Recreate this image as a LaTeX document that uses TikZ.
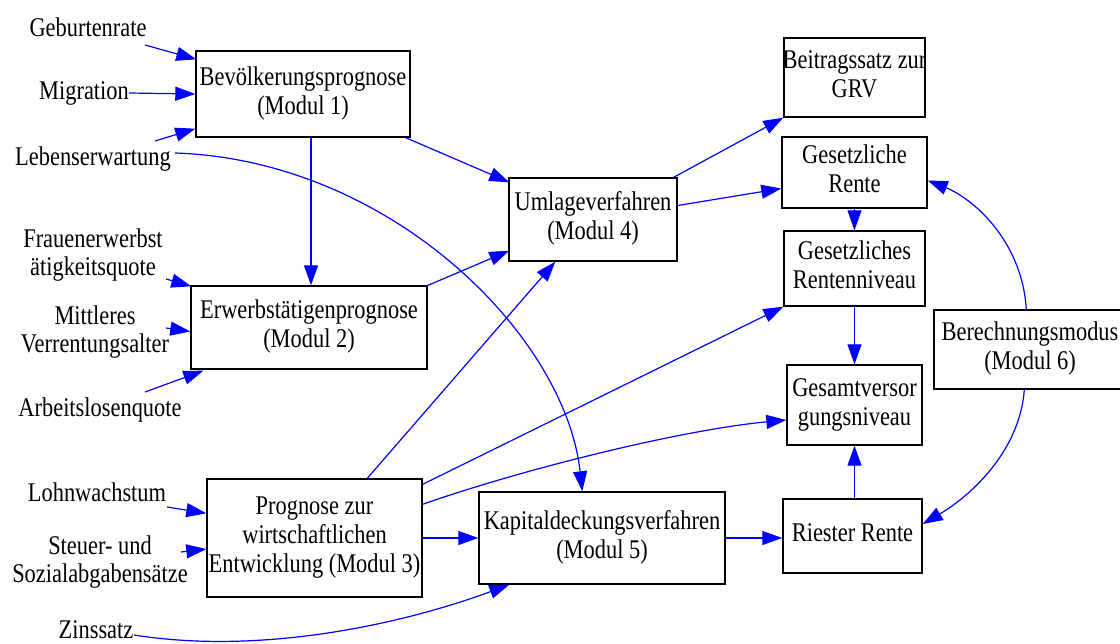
\documentclass[tikz,border=0pt]{standalone}
\usepackage{fontspec}
\setmainfont{Liberation Serif}[FakeStretch=0.83]
\usetikzlibrary{arrows.meta,calc}
\newcommand\mlines[1]{\makebox[0pt]{\begin{tabular}{@{}c@{}}#1\end{tabular}}}
\tikzset{
  box/.style={draw=black, line width=1.4pt, inner sep=0pt, fill=white,
    font=\fontsize{27}{29}\selectfont},
  lab/.style={inner sep=0pt, font=\fontsize{27}{28.5}\selectfont},
  conn/.style={draw=blue, line width=1.2pt,
    -{Triangle[length=20pt,width=14pt]}},
}
\begin{document}
\begin{tikzpicture}[x=1pt,y=-1pt]
\useasboundingbox (0,0) rectangle (1120,644);
\fill[white] (0,0) rectangle (1120,644);
% boxes
\node[box, minimum width=214pt, minimum height=86pt] (m1) at (303,94) {\mlines{Bevölkerungsprognose\\(Modul 1)}};
\node[box, minimum width=236pt, minimum height=83pt] (m2) at (309,327.5) {\mlines{Erwerbstätigenprognose\\(Modul 2)}};
\node[box, minimum width=215pt, minimum height=118pt] (m3) at (314.5,538) {\mlines{Prognose zur\\wirtschaftlichen\\Entwicklung (Modul 3)}};
\node[box, minimum width=168pt, minimum height=83pt] (m4) at (593,219.5) {\mlines{Umlageverfahren\\(Modul 4)}};
\node[box, minimum width=246pt, minimum height=92pt] (m5) at (602,538) {\mlines{Kapitaldeckungsverfahren\\(Modul 5)}};
\node[box, minimum width=192pt, minimum height=79pt] (m6) at (1030,349.5) {\mlines{Berechnungsmodus\\(Modul 6)}};
\node[box, minimum width=141pt, minimum height=79pt] (bg) at (854.5,77.5) {\mlines{Beitragssatz zur\\GRV}};
\node[box, minimum width=145pt, minimum height=71pt] (gr) at (854.5,172.5) {\mlines{Gesetzliche\\Rente}};
\node[box, minimum width=141pt, minimum height=75pt] (rn) at (854.5,268.5) {\mlines{Gesetzliches\\Rentenniveau}};
\node[box, minimum width=135pt, minimum height=80pt] (gv) at (854.5,405) {\mlines{Gesamtversor\\gungsniveau}};
\node[box, minimum width=139pt, minimum height=74pt] (rr) at (852.5,536) {\mlines{Riester Rente}};
% input labels
\node[lab] (geb) at (88,27) {Geburtenrate};
\node[lab] (mig) at (84,93) {Migration};
\node[lab] (leb) at (93,159) {Lebenserwartung};
\node[lab, align=center] (fra) at (93,255) {Frauenerwerbst\\ätigkeitsquote};
\node[lab, align=center] (mit) at (95,332) {Mittleres\\Verrentungsalter};
\node[lab] (alq) at (100,410) {Arbeitslosenquote};
\node[lab] (lohn) at (97,492) {Lohnwachstum};
\node[lab, align=center] (st) at (100,562) {Steuer- und\\Sozialabgabensätze};
\node[lab] (zins) at (96,630) {Zinssatz};
% free start points of the input arrows
\coordinate (gebs) at (145,45);
\coordinate (lebs) at (155,141);
\coordinate (lebc) at (175,153);
\coordinate (fras) at (166,279);
\coordinate (mits) at (166,328);
\coordinate (alqs) at (145,392);
\coordinate (lohns) at (167,507);
\coordinate (sts) at (181,552);
\coordinate (zinss) at (134,635);
% inputs
\draw[conn] (gebs) -- ($(m1.north west)+(1,9)$);
\draw[conn] (mig.east) -- (m1.west);
\draw[conn] (lebs) -- ($(m1.south west)+(0,-9)$);
\draw[conn] (fras) -- ($(m2.north west)+(1,1)$);
\draw[conn] (mits) -- ($(m2.west)+(0,4)$);
\draw[conn] (alqs) -- ($(m2.south west)+(13,1)$);
\draw[conn] (lohns) -- ($(m3.north west)+(0,35)$);
\draw[conn] (sts) -- ($(m3.west)+(0,11)$);
\draw[conn] (lebc) .. controls (390,160) and (565,335) .. ($(m5.north west)+(104,0)$);
\draw[conn] (zinss) .. controls (260,655) and (400,625) .. ($(m5.south west)+(31,0)$);
% module links
\draw[conn] ($(m1.south)+(8,0)$) -- ($(m2.north)+(2,0)$);
\draw[conn] ($(m1.south east)+(-5,0)$) -- ($(m4.north west)+(1,5)$);
\draw[conn] ($(m2.north east)+(-2,1)$) -- ($(m4.south west)+(1,-11)$);
\draw[conn] ($(m3.north west)+(161,0)$) -- ($(m4.south west)+(47,0)$);
\draw[conn] ($(m4.north east)+(-4,0)$) -- (bg.south west);
\draw[conn] ($(m4.east)+(0,-14)$) -- ($(gr.west)+(0,16)$);
\draw[conn] (gr.south) -- (rn.north);
\draw[conn] (rn.south) -- (gv.north);
\draw[conn] (rr.north -| gv.south) -- (gv.south);
\draw[conn] ($(m3.north east)+(0,6)$) -- (rn.south west);
\draw[conn] ($(m3.north east)+(0,26)$) .. controls (520,470) and (680,430) .. ($(gv.west)+(0,15)$);
\draw[conn] (m3.east) -- (m5.west);
\draw[conn] (m5.east) -- (m5.east -| rr.west);
\draw[conn] ($(m6.north west)+(93,0)$) .. controls (1022,240) and (972,198) .. ($(gr.east)+(0,8)$);
\draw[conn] ($(m6.south west)+(91,0)$) .. controls (1020,450) and (972,495) .. ($(rr.east)+(0,-12)$);
\end{tikzpicture}
\end{document}
